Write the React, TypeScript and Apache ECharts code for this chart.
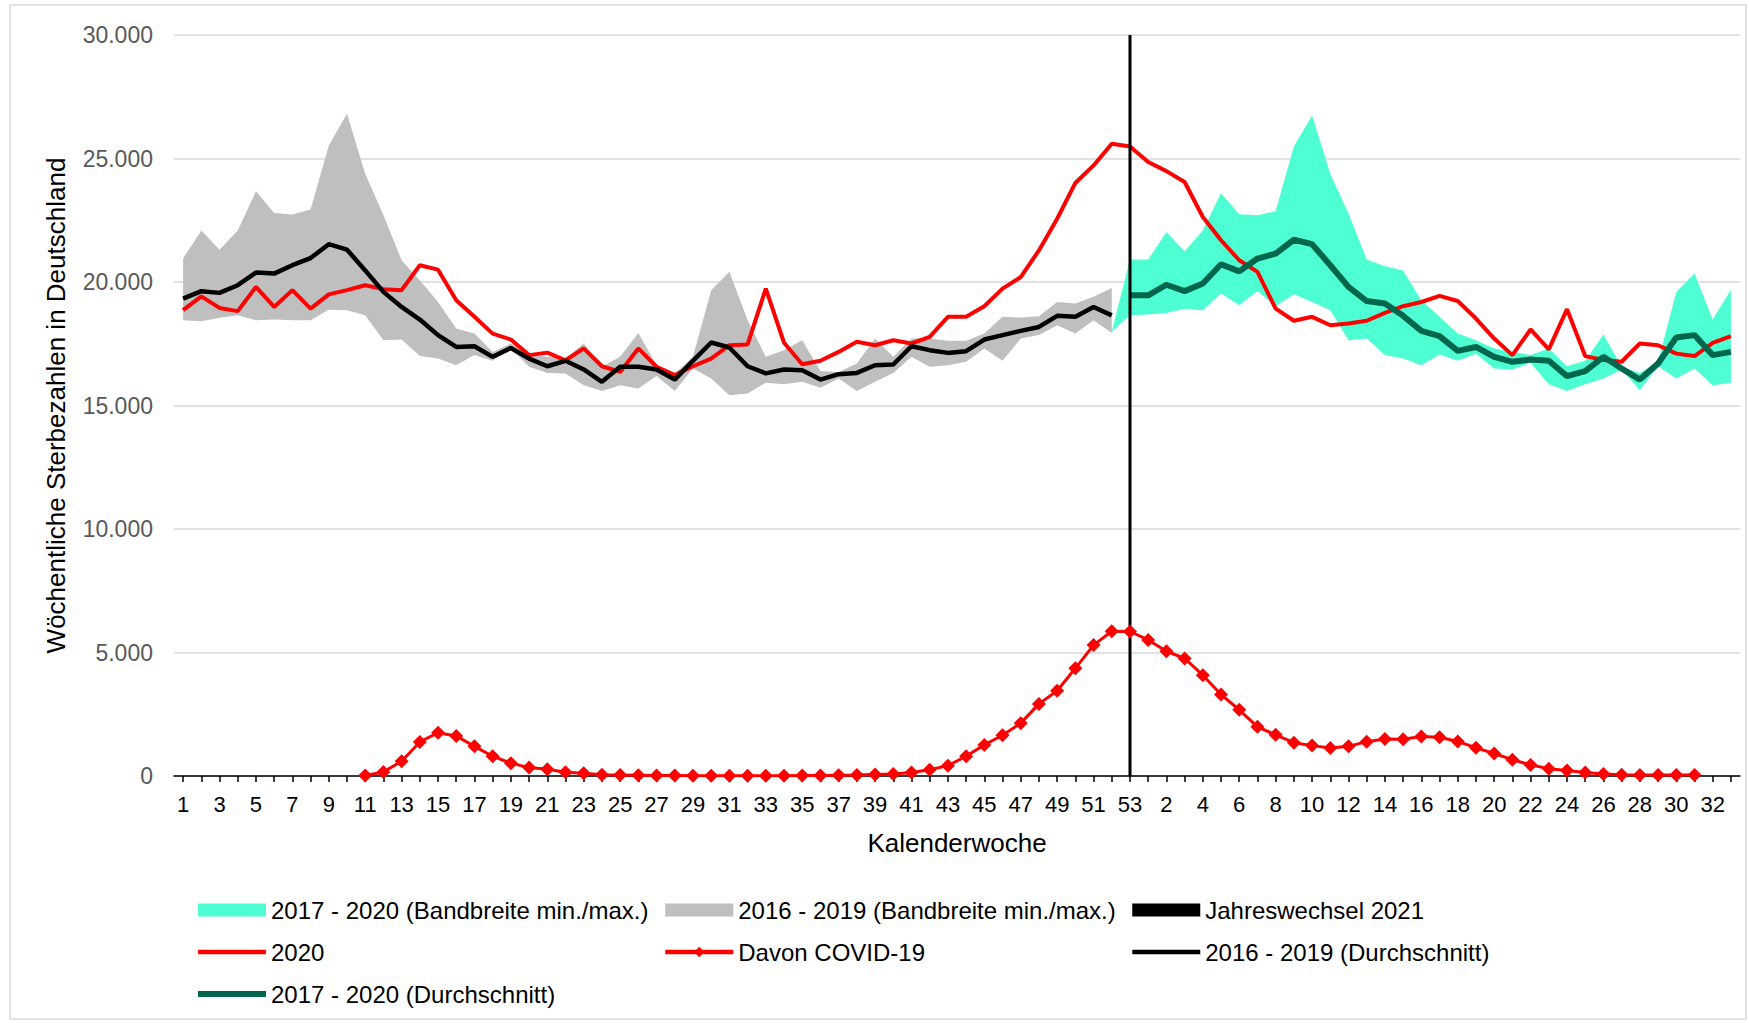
import React, { useEffect, useRef } from "react";
import * as echarts from "echarts";

// ---------- categories (calendar weeks) ----------
const weeks2020: string[] = Array.from({ length: 53 }, (_, i) => String(i + 1));
const weeks2021: string[] = Array.from({ length: 33 }, (_, i) => String(i + 1));
const categories: string[] = [...weeks2020, ...weeks2021];

// ---------- series values ----------
// weekly deaths 2020 (weeks 1-53)
const deaths2020: number[] = [
  18860, 19420, 18950, 18820, 19800, 18990, 19670, 18920, 19500, 19670,
  19870, 19710, 19670, 20680, 20500, 19260, 18590, 17910, 17670, 17040,
  17140, 16830, 17310, 16590, 16360, 17310, 16570, 16230, 16590, 16900,
  17440, 17470, 19730, 17540, 16670, 16810, 17170, 17580, 17440, 17640,
  17510, 17780, 18590, 18590, 19020, 19730, 20200, 21280, 22560, 24010,
  24720, 25600, 25490,
];
// weekly deaths 2021 (weeks 1-33)
const deaths2021: number[] = [
  24860, 24490, 24050, 22630, 21690, 20880, 20410, 18920, 18430, 18590,
  18250, 18320, 18430, 18750, 19020, 19190, 19440, 19230, 18520, 17710,
  17040, 18080, 17270, 18900, 17000, 16840, 16770, 17510, 17440, 17100,
  17000, 17540, 17810,
];
// COVID-19 deaths 2020 (weeks 11-53)
const covid2020: number[] = [
  20, 160, 600, 1380, 1750, 1620, 1200, 800, 520, 340,
  270, 150, 110, 50, 40, 30, 20, 20, 10, 10,
  10, 10, 10, 10, 20, 20, 30, 40, 60, 80,
  140, 250, 420, 800, 1260, 1650, 2140, 2920, 3450, 4360,
  5300, 5860, 5850,
];
// COVID-19 deaths 2021 (weeks 1-31)
const covid2021: number[] = [
  5510, 5050, 4760, 4080, 3300, 2680, 1990, 1665, 1350, 1230,
  1130, 1200, 1390, 1500, 1490, 1600, 1570, 1400, 1140, 910,
  660, 450, 290, 220, 140, 80, 50, 40, 40, 40, 40,
];
// 2016-2019 average / min / max (weeks 1-52)
const avg1619: number[] = [
  19330, 19630, 19560, 19870, 20380, 20340, 20680, 20970, 21530, 21310,
  20470, 19600, 18990, 18480, 17850, 17370, 17400, 16970, 17330, 16900,
  16590, 16810, 16460, 15960, 16570, 16570, 16460, 16050, 16810, 17550,
  17350, 16590, 16300, 16460, 16430, 16050, 16270, 16320, 16630, 16660,
  17400, 17240, 17130, 17200, 17670, 17850, 18020, 18180, 18630, 18590,
  18990, 18650,
];
const max1619: number[] = [
  20950, 22090, 21310, 22090, 23670, 22790, 22730, 22940, 25530, 26810,
  24380, 22700, 20880, 20070, 19190, 18120, 17910, 17170, 17510, 17100,
  16970, 16900, 17510, 16570, 16970, 17940, 16630, 16300, 16970, 19670,
  20410, 18450, 16970, 17240, 17640, 16400, 16360, 16700, 17710, 16970,
  17710, 17710, 17620, 17620, 17910, 18590, 18560, 18610, 19190, 19130,
  19400, 19760,
];
const min1619: number[] = [
  18450, 18410, 18550, 18650, 18450, 18480, 18450, 18450, 18880, 18860,
  18650, 17640, 17670, 17000, 16900, 16630, 17040, 16810, 17310, 16570,
  16320, 16300, 15820, 15590, 15820, 15690, 16190, 15590, 16500, 16090,
  15420, 15490, 15920, 15860, 15960, 15720, 16090, 15590, 15960, 16320,
  16970, 16570, 16630, 16770, 17310, 16810, 17710, 17850, 18250, 17910,
  18450, 17940,
];
// 2017-2020 min / max (2020 week 52 to 2021 week 33)
const max1720: number[] = [
  18000, 20910, 20910, 22020, 21240, 22090, 23600, 22740, 22700, 22870,
  25490, 26740, 24380, 22770, 20910, 20640, 20470, 19260, 18590, 17910,
  17640, 17310, 17170, 17040, 17310, 16590, 16810, 17870, 16570, 16320,
  16770, 19600, 20340, 18480, 19690,
];
const min1720: number[] = [
  18000, 18650, 18680, 18750, 18920, 18860, 19530, 19060, 19640, 19020,
  19500, 19190, 18860, 17640, 17710, 17040, 16900, 16630, 17060, 16810,
  17100, 16500, 16460, 16730, 15860, 15590, 15860, 16090, 16460, 15620,
  16590, 16090, 16500, 15820, 15920,
];
// 2017-2020 average (2020 week 53 to 2021 week 33)
const avg1720: number[] = [
  19460, 19460, 19890, 19630, 19940, 20720, 20430, 20950, 21150, 21710,
  21530, 20680, 19800, 19230, 19130, 18630, 18020, 17810, 17210, 17370,
  16970, 16770, 16860, 16810, 16190, 16390, 16970, 16500, 16050, 16700,
  17750, 17850, 17040, 17170,
];
// turn of the year marker (2020 week 53)
const yearChangeCategory = 52;
const yearChangeValue = 30000;

const yTicks = { min: 0, max: 30000, interval: 5000 };

// ---------- helpers ----------
const N = categories.length;
const nulls = (n: number) => Array.from({ length: n }, () => null as number | null);
const padTo = (start: number, arr: number[]) => {
  const out: (number | null)[] = [...nulls(start), ...arr];
  while (out.length < N) out.push(null);
  return out;
};
const diff = (a: (number | null)[], b: (number | null)[]) =>
  a.map((v, i) => (v == null || b[i] == null ? null : (v as number) - (b[i] as number)));

const FONT = "'Liberation Sans', Arial, Helvetica, sans-serif";
const N_TEAL = "2017 - 2020 (Bandbreite min./max.)";
const N_GRAY = "2016 - 2019 (Bandbreite min./max.)";
const N_JW = "Jahreswechsel 2021";
const N_2020 = "2020";
const N_COVID = "Davon COVID-19";
const N_AVG1619 = "2016 - 2019 (Durchschnitt)";
const N_AVG1720 = "2017 - 2020 (Durchschnitt)";

const C_TEAL = "#4dffd2";
const C_GRAY = "#bfbfbf";
const C_RED = "#ff0000";
const C_GREEN = "#00664e";

const fmt = (v: number) => String(v).replace(/\B(?=(\d{3})+(?!\d))/g, ".");

export default function App() {
  const ref = useRef<HTMLDivElement>(null);

  useEffect(() => {
    document.body.style.margin = "0";
    document.body.style.overflow = "hidden";
    if (!ref.current) return;
    const chart = echarts.init(ref.current, undefined, { renderer: "svg" });

    const deaths = padTo(0, [...deaths2020, ...deaths2021]);
    const covid = padTo(10, [...covid2020, ...covid2021]);
    const avgA = padTo(0, avg1619);
    const minA = padTo(0, min1619);
    const maxA = padTo(0, max1619);
    const minB = padTo(51, min1720);
    const maxB = padTo(51, max1720);
    const avgB = padTo(52, avg1720);
    const jw = categories.map((_, i) => (i === yearChangeCategory ? yearChangeValue : null));

    const legendCommon = {
      orient: "vertical",
      itemWidth: 68,
      itemHeight: 13,
      itemGap: 18,
      top: 898,
      padding: 0,
      textStyle: { fontSize: 24, color: "#000", fontFamily: FONT },
      selectedMode: false,
    };
    const noSym = { opacity: 0 };

    const option: any = {
      animation: false,
      backgroundColor: "#ffffff",
      textStyle: { fontFamily: FONT },
      graphic: [
        {
          type: "rect",
          silent: true,
          z: -10,
          shape: { x: 10, y: 5, width: 1736, height: 1014 },
          style: { fill: "none", stroke: "#d9d9d9", lineWidth: 1.5 },
        },
      ],
      grid: { left: 174, right: 9, top: 35, bottom: 247 },
      xAxis: {
        type: "category",
        data: categories,
        boundaryGap: true,
        name: "Kalenderwoche",
        nameLocation: "middle",
        nameGap: 54,
        nameTextStyle: { fontSize: 26, color: "#000", fontFamily: FONT },
        axisLine: { lineStyle: { color: "#000", width: 1.5 } },
        axisTick: { show: true, interval: 0, alignWithLabel: true, length: 6, lineStyle: { color: "#000", width: 1.5 } },
        axisLabel: { interval: 1, fontSize: 22, color: "#000", margin: 17, fontFamily: FONT },
        splitLine: { show: false },
      },
      yAxis: {
        type: "value",
        min: yTicks.min,
        max: yTicks.max,
        interval: yTicks.interval,
        name: "Wöchentliche Sterbezahlen in Deutschland",
        nameLocation: "middle",
        nameGap: 105,
        nameTextStyle: { fontSize: 26, color: "#000", fontFamily: FONT },
        axisLine: { show: false },
        axisTick: { show: false },
        axisLabel: { fontSize: 23, color: "#595959", margin: 21, fontFamily: FONT, formatter: (v: number) => fmt(v) },
        splitLine: { lineStyle: { color: "#d9d9d9", width: 1.5 } },
      },
      legend: [
        {
          ...legendCommon,
          left: 195,
          data: [
            { name: N_TEAL, icon: "rect", itemStyle: { color: C_TEAL, borderWidth: 0 } },
            { name: N_2020, itemStyle: noSym, lineStyle: { color: C_RED, width: 4.5 } },
            { name: N_AVG1720, itemStyle: noSym, lineStyle: { color: C_GREEN, width: 6 } },
          ],
        },
        {
          ...legendCommon,
          left: 663,
          data: [
            { name: N_GRAY, icon: "rect", itemStyle: { color: C_GRAY, borderWidth: 0 } },
            { name: N_COVID, lineStyle: { color: C_RED, width: 4.5 } },
          ],
        },
        {
          ...legendCommon,
          left: 1130,
          data: [
            { name: N_JW, icon: "rect", itemStyle: { color: "#000", borderWidth: 0 } },
            { name: N_AVG1619, itemStyle: noSym, lineStyle: { color: "#000", width: 4.5 } },
          ],
        },
      ],
      series: [
        {
          name: "base1619",
          type: "line",
          stack: "g1619",
          data: minA,
          symbol: "none",
          lineStyle: { width: 0, opacity: 0 },
          silent: true,
          z: 1,
        },
        {
          name: N_GRAY,
          type: "line",
          stack: "g1619",
          data: diff(maxA, minA),
          symbol: "none",
          lineStyle: { width: 0, opacity: 0 },
          itemStyle: { color: C_GRAY },
          areaStyle: { color: C_GRAY, opacity: 1 },
          silent: true,
          z: 1,
        },
        {
          name: "base1720",
          type: "line",
          stack: "g1720",
          data: minB,
          symbol: "none",
          lineStyle: { width: 0, opacity: 0 },
          silent: true,
          z: 1,
        },
        {
          name: N_TEAL,
          type: "line",
          stack: "g1720",
          data: diff(maxB, minB),
          symbol: "none",
          lineStyle: { width: 0, opacity: 0 },
          itemStyle: { color: C_TEAL },
          areaStyle: { color: C_TEAL, opacity: 1 },
          silent: true,
          z: 1,
        },
        {
          name: N_2020,
          type: "line",
          data: deaths,
          symbol: "none",
          itemStyle: { color: C_RED },
          lineStyle: { color: C_RED, width: 4 },
          z: 2,
        },
        {
          name: N_AVG1619,
          type: "line",
          data: avgA,
          symbol: "none",
          itemStyle: { color: "#000" },
          lineStyle: { color: "#000", width: 4.5 },
          z: 2,
        },
        {
          name: N_AVG1720,
          type: "line",
          data: avgB,
          symbol: "none",
          itemStyle: { color: C_GREEN },
          lineStyle: { color: C_GREEN, width: 6 },
          z: 2,
        },
        {
          name: N_JW,
          type: "bar",
          data: jw,
          barWidth: 3,
          itemStyle: { color: "#000" },
          z: 3,
        },
        {
          name: N_COVID,
          type: "line",
          data: covid,
          symbol: "diamond",
          symbolSize: 14,
          showSymbol: true,
          showAllSymbol: true,
          itemStyle: { color: C_RED },
          lineStyle: { color: C_RED, width: 3 },
          z: 4,
        },
      ],
    };

    chart.setOption(option);
    return () => {
      chart.dispose();
    };
  }, []);

  return <div ref={ref} style={{ width: 1749, height: 1023, position: "absolute", left: 0, top: 0 }} />;
}
